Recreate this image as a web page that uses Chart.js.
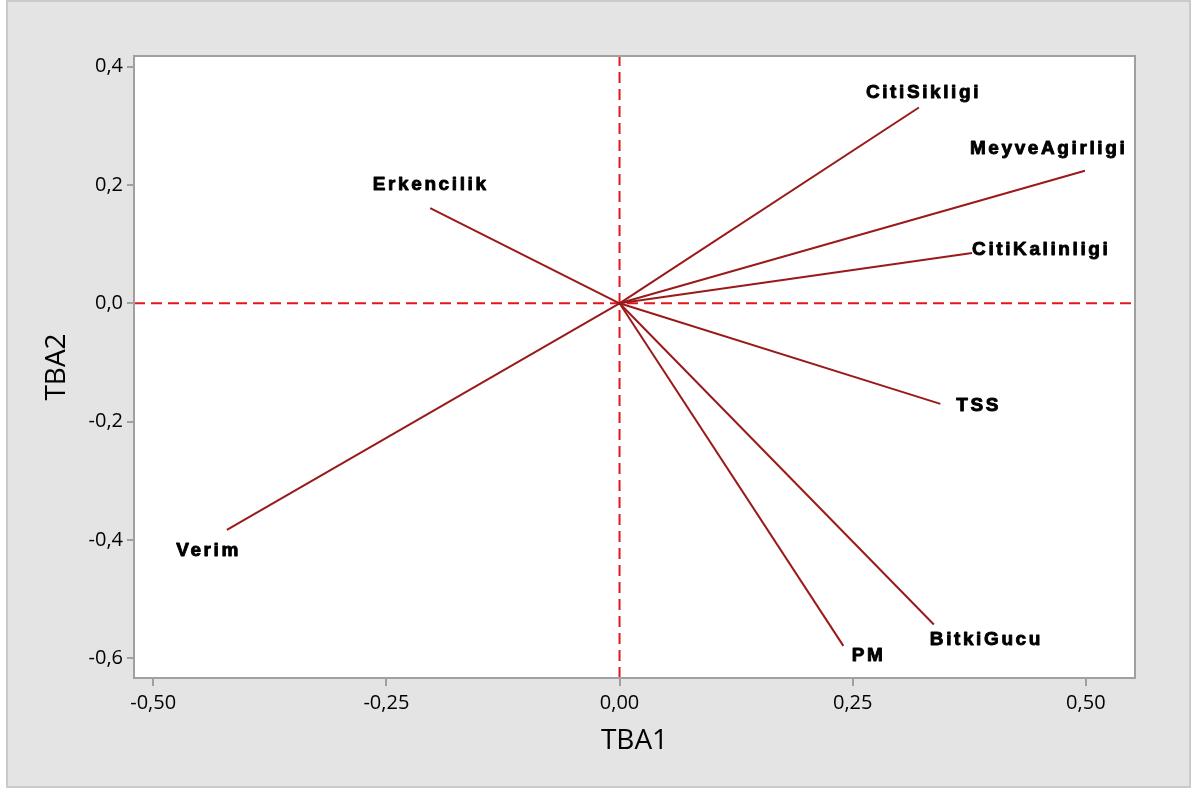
<!DOCTYPE html>
<html>
<head>
<meta charset="utf-8">
<script src="https://cdn.jsdelivr.net/npm/chart.js@4.4.1/dist/chart.umd.min.js"></script>
<style>
  html, body { margin: 0; padding: 0; background: #ffffff; }
  canvas { display: block; }
</style>
</head>
<body>
<canvas id="loadings" width="1197" height="792"></canvas>
<script>
// Loading vectors of the first two principal components (TBA1, TBA2)
const variables = ['CitiSikligi', 'MeyveAgirligi', 'CitiKalinligi', 'TSS', 'BitkiGucu', 'PM', 'Verim', 'Erkencilik'];
const tba1 = [0.321, 0.499, 0.378, 0.344, 0.337, 0.240, -0.421, -0.203];
const tba2 = [0.331, 0.224, 0.085, -0.170, -0.543, -0.579, -0.383, 0.161];

const xTicks = [-0.5, -0.25, 0, 0.25, 0.5];
const xTickLabels = ['-0,50', '-0,25', '0,00', '0,25', '0,50'];
const yTicks = [-0.6, -0.4, -0.2, 0, 0.2, 0.4];
const yTickLabels = ['-0,6', '-0,4', '-0,2', '0,0', '0,2', '0,4'];

const xRange = [-0.5206, 0.5527];
const yRange = [-0.6333, 0.418];

// Label placement relative to each vector tip, in pixels: [left edge dx, vertical centre dy]
const labelPlacement = [[-53, -14.5], [-115, -22], [0, -3.5], [16, 2.3], [-4, 15.4], [8.4, 9.8], [-50.7, 20.8], [-57.4, -23.3]];

const vectorColor = '#9a1a1a';
const refColor = '#e3161c';
const frameGrey = '#a0a0a0';
const textColor = '#000000';

const datasets = variables.map((name, i) => ({
  label: name,
  data: [{ x: 0, y: 0 }, { x: tba1[i], y: tba2[i] }],
  showLine: true,
  borderColor: vectorColor,
  borderWidth: 2,
  pointRadius: 0,
  fill: false
}));

// Dashed reference lines through the origin
datasets.push({
  label: 'x0',
  data: [{ x: 0, y: yRange[0] }, { x: 0, y: yRange[1] }],
  showLine: true, borderColor: refColor, borderWidth: 2, borderDash: [11, 6], pointRadius: 0
});
datasets.push({
  label: 'y0',
  data: [{ x: xRange[0], y: 0 }, { x: xRange[1], y: 0 }],
  showLine: true, borderColor: refColor, borderWidth: 2, borderDash: [11, 6], pointRadius: 0
});

const framePlugin = {
  id: 'frame',
  beforeDraw(chart) {
    const ctx = chart.ctx;
    const a = chart.chartArea;
    ctx.save();
    ctx.fillStyle = '#ffffff';
    ctx.fillRect(0, 0, chart.width, chart.height);
    ctx.fillStyle = '#e4e4e4';
    ctx.fillRect(6, 0, 1185, 788);
    ctx.strokeStyle = '#cacaca';
    ctx.lineWidth = 2;
    ctx.strokeRect(7, 1, 1183, 786);
    ctx.fillStyle = '#ffffff';
    ctx.fillRect(a.left, a.top, a.right - a.left, a.bottom - a.top);
    ctx.restore();
  },
  afterDraw(chart) {
    const ctx = chart.ctx;
    const a = chart.chartArea;
    ctx.save();
    ctx.strokeStyle = frameGrey;
    ctx.lineWidth = 2;
    ctx.strokeRect(a.left, a.top, a.right - a.left, a.bottom - a.top);
    ctx.restore();
  }
};

const vectorLabels = {
  id: 'vectorLabels',
  afterDatasetsDraw(chart) {
    const ctx = chart.ctx;
    const xs = chart.scales.x, ys = chart.scales.y;
    ctx.save();
    ctx.font = 'bold 19px "Liberation Sans", Arial, sans-serif';
    ctx.letterSpacing = '2.6px';
    ctx.fillStyle = textColor;
    ctx.strokeStyle = textColor;
    ctx.lineWidth = 0.9;
    ctx.lineJoin = 'round';
    ctx.textAlign = 'left';
    ctx.textBaseline = 'middle';
    variables.forEach((name, i) => {
      const px = xs.getPixelForValue(tba1[i]) + labelPlacement[i][0];
      const py = ys.getPixelForValue(tba2[i]) + labelPlacement[i][1];
      ctx.fillText(name, px, py);
      ctx.strokeText(name, px, py);
    });
    ctx.restore();
  }
};

new Chart(document.getElementById('loadings'), {
  type: 'scatter',
  data: { datasets },
  plugins: [framePlugin, vectorLabels],
  options: {
    responsive: false,
    devicePixelRatio: 1,
    animation: false,
    layout: { padding: { left: 0, top: 56, right: 62, bottom: 0 } },
    plugins: { legend: { display: false }, tooltip: { enabled: false } },
    scales: {
      x: {
        type: 'linear',
        min: xRange[0],
        max: xRange[1],
        afterBuildTicks: s => { s.ticks = xTicks.map(v => ({ value: v })); },
        afterFit: s => { s.height = 114; },
        ticks: {
          callback: v => xTickLabels[xTicks.indexOf(v)],
          font: { family: '"Open Sans", sans-serif', size: 20 },
          color: textColor,
          padding: 5,
          maxRotation: 0
        },
        grid: { drawOnChartArea: false, drawTicks: true, tickLength: 8, color: frameGrey, lineWidth: 2 },
        border: { display: false },
        title: {
          display: true,
          text: 'TBA1',
          font: { family: '"Open Sans", sans-serif', size: 28 },
          color: textColor,
          padding: { top: 0, bottom: 34 }
        }
      },
      y: {
        type: 'linear',
        min: yRange[0],
        max: yRange[1],
        afterBuildTicks: s => { s.ticks = yTicks.map(v => ({ value: v })); },
        afterFit: s => { s.width = 134; },
        ticks: {
          callback: v => yTickLabels[yTicks.indexOf(v)],
          font: { family: '"Open Sans", sans-serif', size: 20 },
          color: textColor,
          padding: 4
        },
        grid: { drawOnChartArea: false, drawTicks: true, tickLength: 7, color: frameGrey, lineWidth: 2 },
        border: { display: false },
        title: {
          display: true,
          text: 'TBA2',
          font: { family: '"Open Sans", sans-serif', size: 28 },
          color: textColor,
          padding: { top: 40, bottom: 0 }
        }
      }
    }
  }
});
</script>
</body>
</html>
